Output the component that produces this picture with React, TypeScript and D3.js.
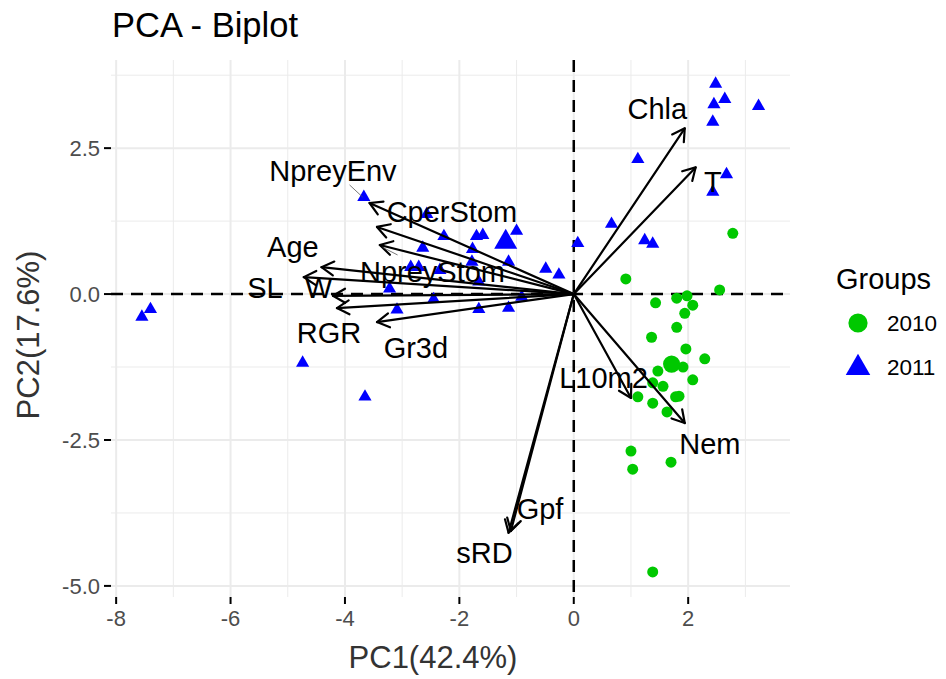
import React from "react";
import * as d3 from "d3";

// ---- data ----
const pts2010X = [2.78, 0.91, 2.55, 1.43, 1.80, 1.98, 2.08, 1.94, 1.80, 1.36, 1.96, 2.29, 1.91, 1.47, 2.08, 1.38, 1.56, 1.12, 1.38, 1.78, 1.84, 1.63, 1.00, 1.03, 1.70, 1.38];
const pts2010Y = [1.04, 0.26, 0.07, -0.15, -0.07, -0.03, -0.19, -0.33, -0.57, -0.74, -0.94, -1.11, -1.25, -1.32, -1.47, -1.52, -1.58, -1.76, -1.87, -1.76, -1.75, -2.02, -2.69, -3.00, -2.88, -4.76];
const pts2011X = [2.48, 2.64, 2.45, 3.23, 2.43, 1.12, 2.67, 2.43, -3.67, -2.57, -2.27, -1.70, -1.59, -1.00, -2.64, -1.77, -1.78, -1.14, -0.49, -0.26, 0.07, 0.66, 1.24, 1.38, -2.85, -2.71, -2.34, -1.66, -3.22, -2.45, -3.09, -1.66, -1.14, -0.91, -7.40, -7.55, -4.74, -3.65];
const pts2011Y = [3.60, 3.34, 3.25, 3.22, 2.95, 2.31, 2.05, 1.75, 1.66, 1.37, 0.99, 0.99, 1.01, 1.08, 0.79, 0.77, 0.55, 0.55, 0.43, 0.33, 0.87, 1.20, 0.92, 0.86, 0.46, 0.46, 0.41, 0.21, 0.09, -0.09, -0.27, -0.26, -0.24, -0.05, -0.26, -0.39, -1.18, -1.76];
const groupNames = ["2010", "2011"];
const groupMeanX = [1.71, -1.19];
const groupMeanY = [-1.20, 0.89];

const varNames = ["Chla", "T", "Nem", "L10m2", "Gpf", "sRD", "Gr3d", "RGR", "W", "SL", "Age", "NpreyStom", "CperStom", "NpreyEnv"];
const varX = [1.94, 2.13, 1.94, 1.00, -1.10, -1.14, -3.44, -4.14, -4.21, -4.72, -4.41, -3.39, -3.44, -3.57];
const varY = [2.84, 2.17, -2.21, -1.78, -4.06, -4.09, -0.48, -0.24, -0.03, 0.29, 0.46, 0.84, 1.15, 1.56];
const labelX = [1.46, 2.43, 2.38, 0.52, -0.59, -1.56, -2.76, -4.28, -4.46, -5.40, -4.91, -2.47, -2.13, -4.21];
const labelY = [3.00, 1.75, -2.74, -1.61, -3.85, -4.61, -1.10, -0.84, -0.07, -0.07, 0.63, 0.21, 1.23, 1.93];
const leaderX1 = [-3.92, -3.34];
const leaderY1 = [1.87, 0.80];
const leaderX2 = [-3.69, -3.08];
const leaderY2 = [1.66, 0.67];

const xMajor = [-8, -6, -4, -2, 0, 2];
const xMinor = [-7, -5, -3, -1, 1, 3];
const yMajor = [-5, -2.5, 0, 2.5];
const yMinor = [-3.75, -1.25, 1.25, 3.75];

const title = "PCA - Biplot";
const xTitle = "PC1(42.4%)";
const yTitle = "PC2(17.6%)";
const legendTitle = "Groups";

// ---- layout ----
const W = 946, H = 679;
const P = { left: 111, right: 790, top: 60, bottom: 597 };
const GREEN = "#00C800";
const BLUE = "#0000FF";
const FONT = "'Liberation Sans', Arial, sans-serif";

export default function App() {
  const x = d3.scaleLinear().domain([-8.09, 3.78]).range([P.left, P.right]);
  const y = d3.scaleLinear().domain([-5.19, 4.01]).range([P.bottom, P.top]);
  const tri = d3.symbol().type(d3.symbolTriangle);
  const circ = d3.symbol().type(d3.symbolCircle);
  const fmtY = (v: number) => v.toFixed(1);

  const arrowHead = (x0: number, y0: number, x1: number, y1: number) => {
    const a = Math.atan2(y1 - y0, x1 - x0);
    const L = 14, ang = Math.PI / 6;
    const p1 = [x1 - L * Math.cos(a - ang), y1 - L * Math.sin(a - ang)];
    const p2 = [x1 - L * Math.cos(a + ang), y1 - L * Math.sin(a + ang)];
    return `M${p1[0]},${p1[1]}L${x1},${y1}L${p2[0]},${p2[1]}`;
  };

  return (
    <svg width={W} height={H} style={{ position: "absolute", left: 0, top: 0, background: "#fff" }} fontFamily={FONT}>
      <rect x={0} y={0} width={W} height={H} fill="#fff" />
      {/* grid */}
      {xMinor.map((v) => (
        <line key={"xm" + v} x1={x(v)} x2={x(v)} y1={P.top} y2={P.bottom} stroke="#EBEBEB" strokeWidth={1} />
      ))}
      {yMinor.map((v) => (
        <line key={"ym" + v} x1={P.left} x2={P.right} y1={y(v)} y2={y(v)} stroke="#EBEBEB" strokeWidth={1} />
      ))}
      {xMajor.map((v) => (
        <line key={"xM" + v} x1={x(v)} x2={x(v)} y1={P.top} y2={P.bottom} stroke="#EBEBEB" strokeWidth={2} />
      ))}
      {yMajor.map((v) => (
        <line key={"yM" + v} x1={P.left} x2={P.right} y1={y(v)} y2={y(v)} stroke="#EBEBEB" strokeWidth={2} />
      ))}
      {/* ticks */}
      {xMajor.map((v) => (
        <g key={"xt" + v}>
          <line x1={x(v)} x2={x(v)} y1={P.bottom} y2={P.bottom + 7} stroke="#000" strokeWidth={2} />
          <text x={x(v)} y={P.bottom + 29} textAnchor="middle" fontSize={22} fill="#4D4D4D">{v}</text>
        </g>
      ))}
      {yMajor.map((v) => (
        <g key={"yt" + v}>
          <line x1={P.left - 7} x2={P.left} y1={y(v)} y2={y(v)} stroke="#000" strokeWidth={2} />
          <text x={P.left - 11} y={y(v) + 8} textAnchor="end" fontSize={22} fill="#4D4D4D">{fmtY(v)}</text>
        </g>
      ))}
      {/* dashed zero lines */}
      <line x1={P.left} x2={P.right} y1={y(0)} y2={y(0)} stroke="#000" strokeWidth={2.5} strokeDasharray="12,8" />
      <line x1={x(0)} x2={x(0)} y1={P.top} y2={P.bottom} stroke="#000" strokeWidth={2.5} strokeDasharray="12,8" />
      {/* points */}
      {pts2010X.map((v, i) => (
        <path key={"g" + i} d={circ.size(95)()!} transform={`translate(${x(v)},${y(pts2010Y[i])})`} fill={GREEN} />
      ))}
      {pts2011X.map((v, i) => (
        <path key={"b" + i} d={tri.size(75)()!} transform={`translate(${x(v)},${y(pts2011Y[i])})`} fill={BLUE} />
      ))}
      <path d={circ.size(230)()!} transform={`translate(${x(groupMeanX[0])},${y(groupMeanY[0])})`} fill={GREEN} />
      <path d={tri.size(230)()!} transform={`translate(${x(groupMeanX[1])},${y(groupMeanY[1])})`} fill={BLUE} />
      {/* arrows */}
      {varNames.map((n, i) => {
        const x0 = x(0), y0 = y(0), x1 = x(varX[i]), y1 = y(varY[i]);
        return (
          <g key={"a" + n} stroke="#000" strokeWidth={2.2} fill="none" strokeLinecap="round" strokeLinejoin="round">
            <line x1={x0} y1={y0} x2={x1} y2={y1} />
            <path d={arrowHead(x0, y0, x1, y1)} />
          </g>
        );
      })}
      {/* leader segments */}
      {leaderX1.map((v, i) => (
        <line key={"l" + i} x1={x(v)} y1={y(leaderY1[i])} x2={x(leaderX2[i])} y2={y(leaderY2[i])} stroke="#555" strokeWidth={0.8} />
      ))}
      {/* labels */}
      {varNames.map((n, i) => (
        <text key={"t" + n} x={x(labelX[i])} y={y(labelY[i])} textAnchor="middle" fontSize={29} fill="#000">{n}</text>
      ))}
      {/* titles */}
      <text x={112} y={37} fontSize={34.5} fill="#000">{title}</text>
      <text x={433} y={668} textAnchor="middle" fontSize={31} fill="#333">{xTitle}</text>
      <text transform={`translate(39,335) rotate(-90)`} textAnchor="middle" fontSize={31} fill="#333">{yTitle}</text>
      {/* legend */}
      <text x={836} y={289} fontSize={29} fill="#000">{legendTitle}</text>
      <path d={circ.size(290)()!} transform="translate(858,323)" fill={GREEN} />
      <text x={887} y={331} fontSize={22.5} fill="#000">{groupNames[0]}</text>
      <path d={tri.size(260)()!} transform="translate(858,368)" fill={BLUE} />
      <text x={887} y={375} fontSize={22.5} fill="#000">{groupNames[1]}</text>
    </svg>
  );
}
